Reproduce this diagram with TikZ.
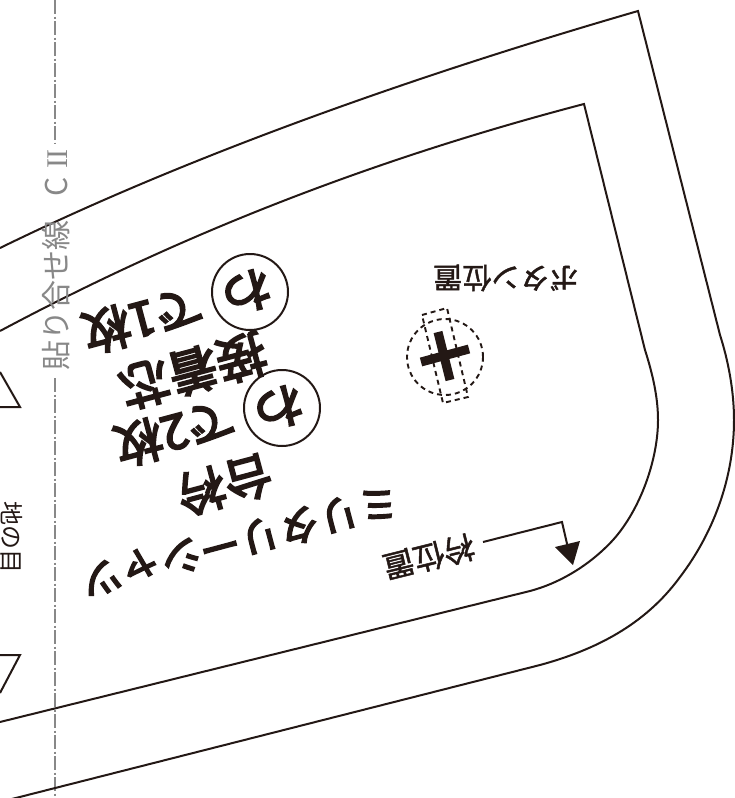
\documentclass[tikz,border=0pt]{standalone}
\usepackage{fontspec}
\newfontfamily\jp{Noto Sans CJK JP}
\newfontfamily\jpm[FakeBold=4]{Noto Sans CJK JP}
\newfontfamily\jps[FakeBold=1.5]{Noto Sans CJK JP}
\newfontfamily\ser{Liberation Serif}
\definecolor{ink}{HTML}{231815}
\definecolor{guide}{HTML}{888888}
\tikzset{
  pattern line/.style={draw=ink,line width=2pt,line join=miter},
  guide line/.style={draw=guide,line width=2.2pt,dash pattern=on 14pt off 2.5pt on 2pt off 2.5pt},
  fine dash/.style={draw=ink,line width=1.9pt,dash pattern=on 5pt off 4pt},
  label mid/.style={inner sep=0pt,text=ink,font=\jpm\fontsize{48}{48}\selectfont},
  label big/.style={inner sep=0pt,text=ink,font=\jpm\fontsize{50}{50}\selectfont},
  label long/.style={inner sep=0pt,text=ink,font=\jpm\fontsize{41}{41}\selectfont},
  label small/.style={inner sep=0pt,text=ink,font=\jps\fontsize{29}{29}\selectfont},
  label small wide/.style={inner sep=0pt,text=ink,font=\jps\fontsize{31}{31}\selectfont},
  guide text/.style={inner sep=0pt,text=guide,font=\jp\fontsize{30}{30}\selectfont},
}
\begin{document}
\begin{tikzpicture}[x=1pt,y=-1pt]
\useasboundingbox (0,0) rectangle (735,798);
% guide line
\draw[guide line] (55,0) -- (55,143);
\draw[guide line] (55,378) -- (55,798);
% outer contour
\draw[pattern line] (0,248) .. controls (180,160) and (400,80) .. (638,11)
  -- (720,335) .. controls (728,360) and (734,390) .. (734,420)
  .. controls (734,480) and (712,535) .. (680,577)
  .. controls (645,625) and (595,650) .. (540,665)
  -- (0,802);
% inner contour
\draw[pattern line] (0,331) .. controls (180,235) and (370,160) .. (584,104)
  -- (645,350) .. controls (653,375) and (658,398) .. (658,420)
  .. controls (658,460) and (640,510) .. (613,540)
  .. controls (590,565) and (560,583) .. (530,591)
  -- (0,722);
% grain triangles
\draw[pattern line] (0,372) -- (20,407) -- (0,407);
\draw[pattern line] (0,655) -- (20,655) -- (0,693);
% circled marks
\node[circle,draw=ink,line width=2pt,minimum size=76pt,inner sep=0pt] (c1) at (250,292) {};
\node[circle,draw=ink,line width=2pt,minimum size=76pt,inner sep=0pt] (c2) at (282,408) {};
\node[label mid,rotate=195] at (247,292) {わ};
\node[label mid,rotate=195] at (279,408) {わ};
\node[label mid,rotate=195] (t1) at (143,320) {で1枚};
\node[label mid,rotate=195] (t2) at (175,433) {で2枚};
\node[label big,rotate=195] (t3) at (193,371) {接着芯};
\node[label mid,rotate=195] (t4) at (225,485) {台衿};
\node[label long,rotate=195] (t5) at (240,541) {ミリタリーシャツ};
\node[label small,rotate=180] (t6) at (506,278) {ボタン位置};
\node[label small wide,rotate=194] (t7) at (429,557) {衿位置};
% button mark
\node[circle,fine dash,minimum size=76pt,inner sep=0pt] (b) at (445,357) {};
\draw[fine dash] (422,315) -- (447,308) -- (468,397) -- (443,403) -- cycle;
\draw[draw=ink,line width=9pt] (438,332) -- (450,380);
\draw[draw=ink,line width=9pt] (421,362) -- (469,349);
% arrow
\coordinate (a0) at (483,542);
\coordinate (a1) at (562,522);
\coordinate (a2) at (568,548);
\draw[draw=ink,line width=2pt] (a0) -- (a1) -- (a2);
\fill[ink] (555,547) -- (580,541) -- (573,565) -- cycle;
% side texts
\node[guide text,rotate=90,anchor=west] (g1) at (56,371) {貼り合せ線\hspace{0.8em}C\hspace{0.3em}{\ser I\kern-0.03em I}};
\node[inner sep=0pt,text=ink,font=\jp\fontsize{24}{24}\selectfont,rotate=-90] (g2) at (12,537) {地の目};
\end{tikzpicture}
\end{document}
